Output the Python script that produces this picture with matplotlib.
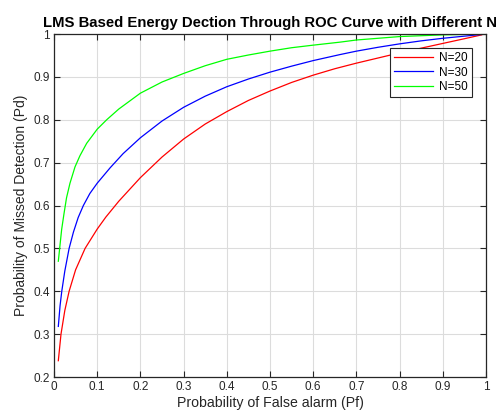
import numpy as np
import matplotlib.pyplot as plt

plt.rcParams['font.family'] = ['Liberation Sans', 'DejaVu Sans']

# values
pf_20 = [0.01, 0.0162, 0.025, 0.035, 0.05, 0.072, 0.10, 0.12, 0.15, 0.20, 0.25, 0.30,
         0.35, 0.40, 0.45, 0.50, 0.55, 0.60, 0.65, 0.70, 0.75, 0.80, 0.85, 0.90,
         0.95, 0.99]
pd_20 = [0.238, 0.300, 0.355, 0.400, 0.450, 0.500, 0.545, 0.573, 0.610, 0.665, 0.713, 0.755,
         0.790, 0.819, 0.845, 0.867, 0.887, 0.904, 0.919, 0.932, 0.944, 0.956, 0.967, 0.978,
         0.989, 0.998]

pf_30 = [0.01, 0.014, 0.018, 0.025, 0.035, 0.045, 0.056, 0.068, 0.083, 0.10, 0.13, 0.16,
         0.20, 0.25, 0.30, 0.35, 0.40, 0.45, 0.50, 0.55, 0.60, 0.662, 0.70, 0.75,
         0.80, 0.85, 0.90, 0.95, 0.99]
pd_30 = [0.318, 0.366, 0.400, 0.447, 0.500, 0.538, 0.572, 0.600, 0.628, 0.652, 0.688, 0.721,
         0.758, 0.797, 0.829, 0.855, 0.877, 0.895, 0.911, 0.925, 0.938, 0.952, 0.960, 0.969,
         0.977, 0.984, 0.990, 0.995, 0.999]

pf_50 = [0.01, 0.0131, 0.0177, 0.023, 0.029, 0.037, 0.0486, 0.06, 0.0756, 0.10, 0.122, 0.15,
         0.20, 0.25, 0.30, 0.35, 0.40, 0.45, 0.50, 0.55, 0.60, 0.662, 0.70, 0.75,
         0.80, 0.85, 0.90, 0.95, 0.99]
pd_50 = [0.470, 0.500, 0.544, 0.580, 0.618, 0.652, 0.690, 0.716, 0.745, 0.778, 0.800, 0.825,
         0.862, 0.888, 0.908, 0.926, 0.941, 0.951, 0.960, 0.968, 0.974, 0.981, 0.986, 0.990,
         0.994, 0.996, 0.998, 0.999, 1.000]

series = [(pf_20, pd_20, 'N=20', '#ff0000'),
          (pf_30, pd_30, 'N=30', '#0000ff'),
          (pf_50, pd_50, 'N=50', '#00ff00')]

fig = plt.figure(figsize=(4.97, 4.15), dpi=100)
ax = fig.add_axes([54 / 497, 38 / 415, 432 / 497, 343 / 415])

for x, y, lab, col in series:
    ax.plot(x, y, color=col, lw=0.9, label=lab)

ax.set_xlim(0, 1)
ax.set_ylim(0.2, 1)
ax.set_xticks(np.arange(0, 1.01, 0.1))
ax.set_yticks(np.arange(0.2, 1.01, 0.1))
ax.set_xticklabels(['0', '0.1', '0.2', '0.3', '0.4', '0.5', '0.6', '0.7', '0.8', '0.9', '1'])
ax.set_yticklabels(['0.2', '0.3', '0.4', '0.5', '0.6', '0.7', '0.8', '0.9', '1'])
ax.grid(True, color='#dcdcdc', lw=0.8)
ax.set_axisbelow(True)
ax.tick_params(direction='in', top=True, right=True, length=4, width=0.8,
               colors='#262626', labelsize=8.5, pad=3)
for s in ax.spines.values():
    s.set_color('#262626')
    s.set_linewidth(0.9)

ax.set_xlabel('Probability of False alarm (Pf)', fontsize=10.2, color='#262626', labelpad=2)
ax.set_ylabel('Probability of Missed Detection (Pd)', fontsize=10, color='#262626', labelpad=4)
ax.set_title('LMS Based Energy Dection Through ROC Curve with Different N',
             fontsize=10.7, fontweight='bold', pad=5)

leg = ax.legend(loc='upper right', bbox_to_anchor=(0.9676, 0.959), borderaxespad=0,
                fontsize=8.5, fancybox=False, framealpha=1, edgecolor='#262626',
                handlelength=3.3, borderpad=0.35, labelspacing=0.2, handletextpad=0.5)
leg.get_frame().set_linewidth(0.8)

fig.savefig('out.png', dpi=100)
